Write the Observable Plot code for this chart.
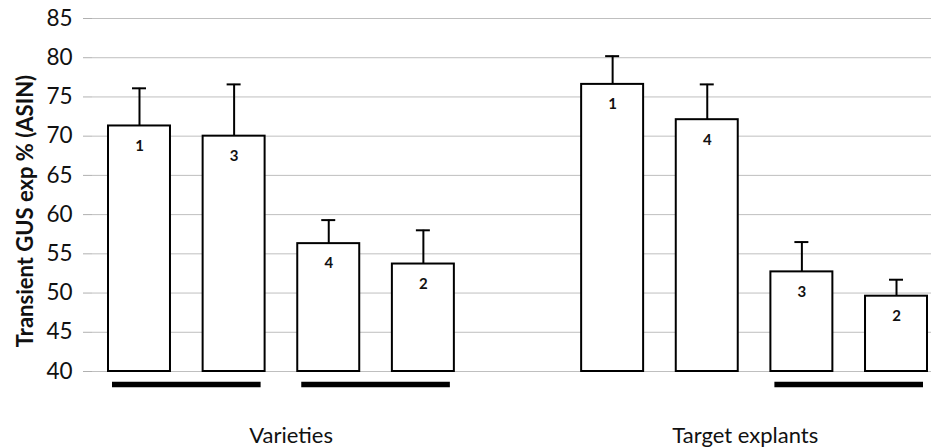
<!DOCTYPE html>
<html>
<head>
<meta charset="utf-8">
<script src="https://cdn.jsdelivr.net/npm/d3@7"></script>
<script src="https://cdn.jsdelivr.net/npm/@observablehq/plot@0.6"></script>
<style>
  html, body { margin: 0; padding: 0; background: #fff; }
  svg { display: block; }
</style>
</head>
<body>
<div id="chart"></div>
<script>
// slots along the x axis ("gap" is the empty slot between the two groups)
const slots = ["v1", "v2", "v3", "v4", "gap", "t1", "t2", "t3", "t4"];
const barSlots = ["v1", "v2", "v3", "v4", "t1", "t2", "t3", "t4"];
const barValues = [71.3, 70.0, 56.3, 53.7, 76.6, 72.1, 52.7, 49.6];
const barErrors = [76.1, 76.6, 59.3, 58.0, 80.2, 76.6, 56.5, 51.7];
const barRanks = ["1", "3", "4", "2", "1", "4", "3", "2"];
const yTicks = [40, 45, 50, 55, 60, 65, 70, 75, 80, 85];
const yLabel = "Transient GUS exp % (ASIN)";
// significance groupings (underlines): from slot to slot
const groupFrom = ["v1", "v3", "t3"];
const groupTo = ["v2", "v4", "t4"];
// group labels
const groupNames = ["Varieties", "Target explants"];
const groupAnchor = ["v2", "t2"];

const bars = barSlots.map((s, i) => ({slot: s, value: barValues[i], err: barErrors[i], rank: barRanks[i]}));
const groups = groupFrom.map((f, i) => ({from: f, to: groupTo[i]}));
const labels = groupNames.map((n, i) => ({name: n, slot: groupAnchor[i]}));

const font = "Lato, 'Open Sans', sans-serif";

const chart = Plot.plot({
  width: 932,
  height: 448,
  marginLeft: 92,
  marginRight: 1,
  marginTop: 18,
  marginBottom: 77,
  style: {fontFamily: font, background: "#fff", overflow: "visible"},
  x: {domain: slots, paddingInner: 0.345, paddingOuter: 0.1057, align: 0.8, round: false, axis: null},
  y: {domain: [40, 85], ticks: yTicks, axis: null},
  marks: [
    Plot.gridY(yTicks, {stroke: "#bfbfbf", strokeOpacity: 1, strokeWidth: 1}),
    Plot.ruleX([0], {frameAnchor: "left", y1: 40, y2: 85, stroke: "#b0b0b0", strokeWidth: 1}),
    Plot.axisY({ticks: yTicks, tickSize: 9, tickPadding: 11, stroke: "#b0b0b0", fontSize: 22.5, fill: "#111", label: null}),
    Plot.barY(bars, {x: "slot", y1: 40, y2: "value", fill: "#fff", stroke: "#000", strokeWidth: 2}),
    Plot.ruleX(bars, {x: "slot", y1: "value", y2: "err", stroke: "#000", strokeWidth: 2}),
    Plot.tickY(bars, {x: "slot", y: "err", stroke: "#000", strokeWidth: 2, insetLeft: 24, insetRight: 24}),
    Plot.text(bars, {x: "slot", y: "value", text: "rank", dy: 20, fontSize: 15, fontWeight: "bold", fill: "#111"}),
    Plot.ruleY(groups, {x1: "from", x2: "to", y: 40, dy: 13, stroke: "#000", strokeWidth: 5.5, insetLeft: 4, insetRight: 4}),
    Plot.text(labels.slice(0, 1), {x: "slot", y: 40, text: "name", dy: 64, dx: 57, fontSize: 22, fill: "#111", letterSpacing: "0.08em"}),
    Plot.text(labels.slice(1), {x: "slot", y: 40, text: "name", dy: 64, dx: 38, fontSize: 22, fill: "#111", letterSpacing: "0.06em"}),
    Plot.text([yLabel], {frameAnchor: "left", text: d => d, textAnchor: "middle", rotate: -90, dx: -67, dy: 16, fontSize: 22, fontWeight: "bold", fill: "#111", letterSpacing: "0.04em"})
  ]
});
document.getElementById("chart").appendChild(chart);
</script>
</body>
</html>
